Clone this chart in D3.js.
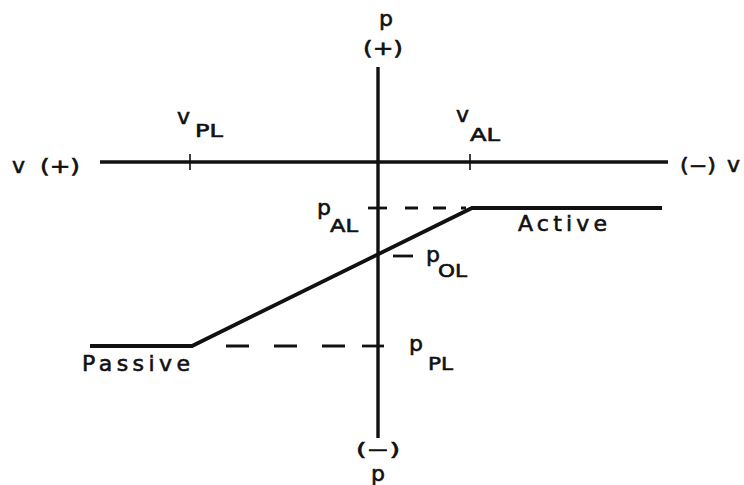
<!DOCTYPE html>
<html><head><meta charset="utf-8">
<script src="https://cdn.jsdelivr.net/npm/d3@7/dist/d3.min.js"></script>
<style>body{margin:0;background:#fff}svg{display:block}text{font-family:"DejaVu Sans",sans-serif;fill:#111;stroke:#111;stroke-width:0.6}</style>
</head><body><svg id="c" width="744" height="485"></svg>
<script>
// Data (abstract units: v positive to the left, p positive up)
const vAxisExtent = [2.78, -2.90];
const pAxisExtent = [0.95, -2.76];
const vLimits = [{name:"PL", v:1.88}, {name:"AL", v:-0.92}];
const pLevels = [{name:"AL", p:-0.46}, {name:"OL", p:-0.92}, {name:"PL", p:-1.84}];
const curveV = [2.88, 1.86, -0.94, -2.84];
const curveP = [-1.84, -1.84, -0.46, -0.46];

const svg = d3.select("#c");
const x = d3.scaleLinear().domain([1, -1]).range([278, 478]);
const y = d3.scaleLinear().domain([0, -1]).range([162, 262]);

// axes
svg.append("line").attr("x1", x(vAxisExtent[0])).attr("x2", x(vAxisExtent[1]))
  .attr("y1", y(0)).attr("y2", y(0)).attr("stroke","#111").attr("stroke-width",3.4);
svg.append("line").attr("x1", x(0)).attr("x2", x(0))
  .attr("y1", y(pAxisExtent[0])).attr("y2", y(pAxisExtent[1])).attr("stroke","#111").attr("stroke-width",3.4);

// v ticks
vLimits.forEach(d=>{
  svg.append("line").attr("x1",x(d.v)).attr("x2",x(d.v)).attr("y1",y(0)-8).attr("y2",y(0)+8)
    .attr("stroke","#111").attr("stroke-width",1.6);
});

// characteristic curve
const line = d3.line().x(d=>x(d[0])).y(d=>y(d[1]));
svg.append("path").datum(curveV.map((v,i)=>[v,curveP[i]])).attr("d",line)
  .attr("fill","none").attr("stroke","#111").attr("stroke-width",3.8).attr("stroke-linejoin","miter");

const pAL = pLevels[0].p, pOL = pLevels[1].p, pPL = pLevels[2].p;
// p_AL tick + dashes
svg.append("line").attr("x1",x(0)-10).attr("x2",x(0)+9).attr("y1",y(pAL)).attr("y2",y(pAL))
  .attr("stroke","#111").attr("stroke-width",2.8);
svg.append("line").attr("x1",x(0)+27).attr("x2",x(vLimits[1].v)-4).attr("y1",y(pAL)).attr("y2",y(pAL))
  .attr("stroke","#111").attr("stroke-width",2.8).attr("stroke-dasharray","13,15");
// p_OL dash
svg.append("line").attr("x1",x(0)+15).attr("x2",x(0)+35).attr("y1",y(pOL)+2).attr("y2",y(pOL)+2)
  .attr("stroke","#111").attr("stroke-width",2.8);
// p_PL tick + dashes
svg.append("line").attr("x1",x(0)-16).attr("x2",x(0)+6).attr("y1",y(pPL)).attr("y2",y(pPL))
  .attr("stroke","#111").attr("stroke-width",2.8);
svg.append("line").attr("x1",x(vLimits[0].v)+36).attr("x2",x(0)-30).attr("y1",y(pPL)).attr("y2",y(pPL))
  .attr("stroke","#111").attr("stroke-width",2.8).attr("stroke-dasharray","23,25");

// labels with subscripts
function sub(x1, b1, main, x2, b2, s, w){
  svg.append("text").attr("x",x1).attr("y",b1).attr("font-size",22).text(main);
  svg.append("text").attr("x",x2).attr("y",b2).attr("font-size",18)
    .attr("textLength",w).attr("lengthAdjust","spacingAndGlyphs").text(s);
}
sub(177, 124, "v", 195, 137, vLimits[0].name, 28);
sub(456, 122, "v", 470, 141, vLimits[1].name, 30);
sub(317, 215, "p", 330, 232, pLevels[0].name, 28);
sub(426, 262, "p", 438, 277, pLevels[1].name, 29);
sub(409, 351, "p", 428, 370, pLevels[2].name, 25);

const txt = (xx,yy,s,fs,w,adj)=>{
  const t = svg.append("text").attr("x",xx).attr("y",yy).attr("font-size",fs||21).text(s);
  if (w) t.attr("textLength",w).attr("lengthAdjust",adj||"spacing");
  return t;
};
txt(379, 26, "p", 22);
txt(363, 55, "(+)", 19, 40, "spacingAndGlyphs");
txt(356, 456, "(−)", 18, 44, "spacingAndGlyphs");
txt(371, 481, "p", 22);
txt(12, 173, "v", 22);
txt(40, 173, "(+)", 19, 40, "spacingAndGlyphs");
txt(680, 172, "(−)", 19, 36, "spacingAndGlyphs");
txt(727, 172, "v", 22);
txt(518, 231, "Active", 22, 89);
txt(82, 371, "Passive", 22, 108);
</script></body></html>
